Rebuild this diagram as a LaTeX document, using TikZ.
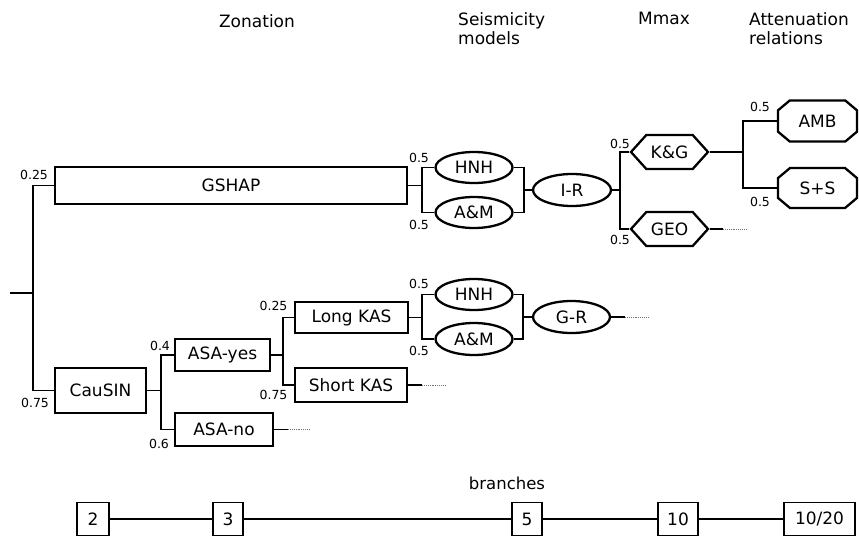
\documentclass[tikz,border=0pt]{standalone}
\usepackage{fontspec}
\setmainfont{DejaVu Sans}
\usetikzlibrary{shapes.misc,shapes.symbols,shapes.geometric}
\begin{document}
\begin{tikzpicture}[x=1pt,y=-1pt,
  nfont/.style={font=\fontsize{17}{19}\selectfont},
  box/.style={draw,line width=2.3pt,rectangle,inner sep=0pt,nfont},
  oval/.style={draw,line width=2.3pt,ellipse,inner sep=0pt,minimum width=77pt,minimum height=31pt,nfont},
  hexa/.style={draw,line width=2.3pt,signal,signal to=east and west,signal pointer angle=96,inner sep=0pt,minimum width=77pt,minimum height=34pt,nfont},
  octa/.style={draw,line width=2.3pt,chamfered rectangle,chamfered rectangle xsep=11pt,chamfered rectangle angle=50,inner sep=0pt,minimum width=79pt,minimum height=41pt,nfont},
  conn/.style={line width=1.1pt},
  tail/.style={line width=0.9pt,densely dotted,black!55},
  prob/.style={font=\fontsize{12.5}{14}\selectfont,inner sep=0pt},
  title/.style={font=\fontsize{17}{19.5}\selectfont,align=left,anchor=north west,inner sep=0pt},
  cnt/.style={draw,line width=1.3pt,rectangle,inner sep=0pt,minimum height=33pt,nfont},
  base/.style={line width=2pt}
]
\useasboundingbox (0,0) rectangle (859,536);

% titles
\node[font=\fontsize{17}{19.5}\selectfont,inner sep=0pt] (tZon) at (257,21) {Zonation};
\node[title] (tSeis) at (458,12) {Seismicity\\models};
\node[title] (tMmax) at (638,12) {Mmax};
\node[title] (tAtt) at (749,12) {Attenuation\\relations};

% zonation nodes
\node[box,minimum width=352pt,minimum height=37pt] (GSHAP) at (231,185.5) {GSHAP};
\node[box,minimum width=91pt,minimum height=45pt] (CauSIN) at (100.5,390.5) {CauSIN};
\node[box,minimum width=95pt,minimum height=32pt] (ASAy) at (222.5,355) {ASA-yes};
\node[box,minimum width=98pt,minimum height=33pt] (ASAn) at (224,429.5) {ASA-no};
\node[box,minimum width=113pt,minimum height=31pt] (LKAS) at (351.5,317.5) {Long KAS};
\node[box,minimum width=112pt,minimum height=34pt] (SKAS) at (351,385) {Short KAS};

% seismicity models
\node[oval] (HNHa) at (474,167.5) {HNH};
\node[oval] (AMa) at (474,212.5) {A\&M};
\node[oval,minimum width=78pt,minimum height=32pt] (IR) at (572,190) {I-R};
\node[oval] (HNHb) at (474,294.5) {HNH};
\node[oval,minimum height=32pt] (AMb) at (474,339) {A\&M};
\node[oval,minimum height=32pt] (GR) at (571.5,317) {G-R};

% Mmax
\node[hexa] (KG) at (669.5,152) {K\&G};
\node[hexa] (GEO) at (669.5,229) {GEO};

% attenuation
\node[octa] (AMB) at (817.5,121) {AMB};
\node[octa,minimum height=40pt] (SS) at (817.5,188) {S+S};

% junction coordinates
\coordinate (start) at (10,293);
\coordinate (j0) at (33,293);
\coordinate (j1) at (161,390.5);
\coordinate (j2) at (283,355);
\coordinate (jg) at (422,185.5);
\coordinate (jl) at (422,317.5);
\coordinate (jra) at (524,190);
\coordinate (jrb) at (523,317);
\coordinate (jir) at (620,190);
\coordinate (jkg) at (743,152);

% connectors
\draw[conn] (start) -- (j0);
\draw[conn] (GSHAP.west) -| (j0) |- (CauSIN.west);
\draw[conn] (CauSIN.east) -- (j1);
\draw[conn] (ASAy.west) -| (j1) |- (ASAn.west);
\draw[conn] (ASAy.east) -- (j2);
\draw[conn] (LKAS.west) -| (j2) |- (SKAS.west);
\draw[conn] (GSHAP.east) -- (jg);
\draw[conn] (HNHa.west) -| (jg) |- (AMa.west);
\draw[conn] (HNHa.east) -| (jra) |- (AMa.east);
\draw[conn] (jra) -- (IR.west);
\draw[conn] (LKAS.east) -- (jl);
\draw[conn] (HNHb.west) -| (jl) |- (AMb.west);
\draw[conn] (HNHb.east) -| (jrb) |- (AMb.east);
\draw[conn] (jrb) -- (GR.west);
\draw[conn] (IR.east) -- (jir);
\draw[conn] (KG.west) -| (jir) |- (GEO.west);
\draw[conn] (KG.east) -- (jkg);
\draw[conn] (AMB.west) -| (jkg) |- (SS.west);

% open ends
\coordinate (tA1) at (288,429.5); \coordinate (tA2) at (310,429.5);
\coordinate (tS1) at (422,385); \coordinate (tS2) at (445,385);
\coordinate (tG1) at (625,317); \coordinate (tG2) at (648,317);
\coordinate (tE1) at (723,229); \coordinate (tE2) at (747,229);
\draw[conn] (ASAn.east) -- (tA1); \draw[tail] (tA1) -- (tA2);
\draw[conn] (SKAS.east) -- (tS1); \draw[tail] (tS1) -- (tS2);
\draw[conn] (GR.east) -- (tG1); \draw[tail] (tG1) -- (tG2);
\draw[conn] (GEO.east) -- (tE1); \draw[tail] (tE1) -- (tE2);

% probabilities
\node[prob] (p1) at (34,175) {0.25};
\node[prob] (p2) at (35,403) {0.75};
\node[prob] (p3) at (160,345.5) {0.4};
\node[prob] (p4) at (159,444) {0.6};
\node[prob] (p5) at (273.5,306) {0.25};
\node[prob] (p6) at (273.5,395) {0.75};
\node[prob] (p7) at (419,157.5) {0.5};
\node[prob] (p8) at (419,225) {0.5};
\node[prob] (p9) at (419,283.5) {0.5};
\node[prob] (p10) at (419,351) {0.5};
\node[prob] (p11) at (620,143.5) {0.5};
\node[prob] (p12) at (620,239.5) {0.5};
\node[prob] (p13) at (760,107) {0.5};
\node[prob] (p14) at (760,202) {0.5};

% branches
\node[font=\fontsize{16.5}{19}\selectfont,inner sep=0pt] (br) at (507,483) {branches};
\node[cnt,minimum width=32pt] (c2) at (93,519) {2};
\node[cnt,minimum width=30pt] (c3) at (228,519) {3};
\node[cnt,minimum width=30pt] (c5) at (527,519) {5};
\node[cnt,minimum width=40pt] (c10) at (678,519) {10};
\node[cnt,minimum width=71pt] (c1020) at (819.5,519) {10/20};
\draw[base] (c2) -- (c3);
\draw[base] (c3) -- (c5);
\draw[base] (c5) -- (c10);
\draw[base] (c10) -- (c1020);
\end{tikzpicture}
\end{document}
